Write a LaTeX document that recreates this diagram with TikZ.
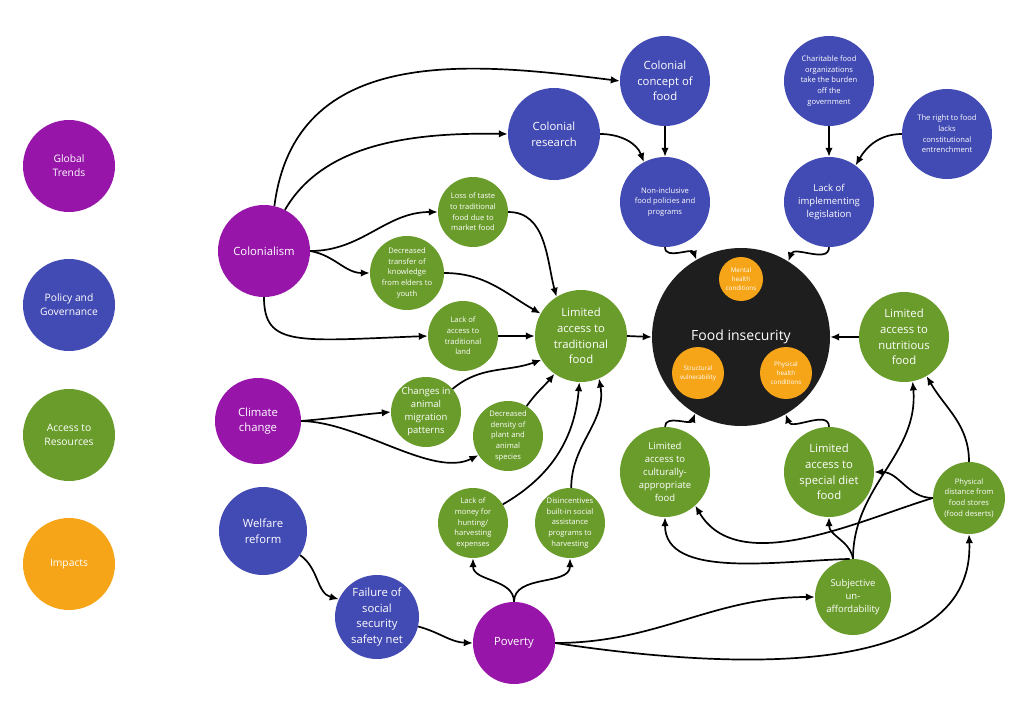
\documentclass[tikz,border=0pt]{standalone}
\usepackage{fontspec}
\setmainfont{Open Sans}
\usetikzlibrary{arrows.meta}
\definecolor{cpurple}{HTML}{9815AA}
\definecolor{cblue}{HTML}{424AB3}
\definecolor{cgreen}{HTML}{6A9C2B}
\definecolor{corange}{HTML}{F6A519}
\definecolor{cblack}{HTML}{1E1E1E}
\tikzset{
  circ/.style={circle, inner sep=0pt, text=white, align=center},
  gtr/.style={circ, fill=cpurple},
  pol/.style={circ, fill=cblue},
  acc/.style={circ, fill=cgreen},
  imp/.style={circ, fill=corange},
  fbig/.style={font=\fontsize{11.3}{15.7}\selectfont},
  fmid/.style={font=\fontsize{9.5}{13}\selectfont},
  fsmall/.style={font=\fontsize{7.6}{10.7}\selectfont},
  ftiny/.style={font=\fontsize{6.3}{9}\selectfont},
  flegend/.style={font=\fontsize{10.3}{14}\selectfont},
  link/.style={-{Latex[length=9pt,width=7.5pt]}, line width=1.7pt, black},
}
\begin{document}
\begin{tikzpicture}[x=1pt,y=1pt]
\useasboundingbox (0,0) rectangle (1024,-706);
% legend
\node[gtr,flegend,minimum size=92] (gt) at (69,-166) {Global\\Trends};
\node[pol,flegend,minimum size=92] (pg) at (69,-305) {Policy and\\Governance};
\node[acc,flegend,minimum size=92] (ar) at (69,-435) {Access to\\Resources};
\node[imp,flegend,minimum size=92] (im) at (69,-564) {Impacts};
% main nodes
\node[gtr,fbig,minimum size=92] (col) at (264,-251) {Colonialism};
\node[pol,fbig,minimum size=92] (cr) at (554,-134) {Colonial\\research};
\node[pol,fbig,minimum size=90] (cc) at (665,-81) {Colonial\\concept of\\food};
\node[pol,fsmall,minimum size=90] (ni) at (665,-202) {Non-inclusive\\food policies and\\programs};
\node[pol,fsmall,minimum size=90] (cf) at (829,-81) {Charitable food\\organizations\\take the burden\\off the\\government};
\node[pol,fmid,minimum size=90] (li) at (829,-202) {Lack of\\implementing\\legislation};
\node[pol,fsmall,minimum size=90] (rf) at (947,-134) {The right to food\\lacks\\constitutional\\entrenchment};
\node[acc,fsmall,minimum size=70] (lt) at (473,-212) {Loss of taste\\to traditional\\food due to\\market food};
\node[acc,fsmall,minimum size=74] (dt) at (407,-273) {Decreased\\transfer of\\knowledge\\from elders to\\youth};
\node[acc,fsmall,minimum size=70] (la) at (463,-336) {Lack of\\access to\\traditional\\land};
\node[acc,fbig,minimum size=92] (ltf) at (581,-336) {Limited\\access to\\traditional\\food};
\node[gtr,fbig,minimum size=86] (cl) at (258,-421) {Climate\\change};
\node[acc,fmid,minimum size=70] (cm) at (426,-412) {Changes in\\animal\\migration\\patterns};
\node[acc,fsmall,minimum size=70] (dd) at (508,-436) {Decreased\\density of\\plant and\\animal\\species};
\node[acc,fsmall,minimum size=70] (lm) at (473,-523) {Lack of\\money for\\hunting/\\harvesting\\expenses};
\node[acc,fsmall,minimum size=70] (di) at (570,-523) {Disincentives\\built-in social\\assistance\\programs to\\harvesting};
\node[pol,fbig,minimum size=88] (wr) at (263,-531) {Welfare\\reform};
\node[pol,fbig,minimum size=84] (fs) at (377,-617) {Failure of\\social\\security\\safety net};
\node[gtr,fbig,minimum size=82] (pov) at (514,-643) {Poverty};
\node[circ,fill=cblack,minimum size=178,font=\fontsize{14}{18}\selectfont] (fi) at (741,-337) {Food insecurity};
\node[imp,ftiny,minimum size=44] (mh) at (741,-279) {Mental\\health\\conditions};
\node[imp,ftiny,minimum size=52] (sv) at (698,-373) {Structural\\vulnerability};
\node[imp,ftiny,minimum size=52] (ph) at (786,-373) {Physical\\health\\conditions};
\node[acc,fbig,minimum size=90] (ln) at (904,-337) {Limited\\access to\\nutritious\\food};
\node[acc,fmid,minimum size=90] (lc) at (665,-472) {Limited\\access to\\culturally-\\appropriate\\food};
\node[acc,fbig,minimum size=90] (ls) at (829,-472) {Limited\\access to\\special diet\\food};
\node[acc,fsmall,minimum size=72] (pd) at (969,-498) {Physical\\distance from\\food stores\\(food deserts)};
\node[acc,fmid,minimum size=76] (su) at (853,-597) {Subjective\\un-\\affordability};
% connectors
\draw[link] (col.77) .. controls +(21,162) and +(-150,19) .. (cc.180);
\draw[link] (col.63) .. controls +(36,62) and +(-107,2) .. (cr.180);
\draw[link] (col.0) to[out=0,in=180] (lt.180);
\draw[link] (col.0) to[out=-10,in=180] (dt.180);
\draw[link] (col.270) .. controls +(0,-50) and +(-130,-5) .. (la.180);
\draw[link] (lt.0) to[out=0,in=105] (ltf.122);
\draw[link] (dt.0) to[out=0,in=150] (ltf.151);
\draw[link] (la.0) -- (ltf.180);
\draw[link] (cm.41) to[out=40,in=200] (ltf.211);
\draw[link] (dd.58) to[out=55,in=230] (ltf.235);
\draw[link] (cl.0) to[out=5,in=185] (cm.180);
\draw[link] (cl.0) .. controls +(59,-1) and +(-46,-23) .. (dd.213);
\draw[link] (lm.32) to[out=30,in=265] (ltf.268);
\draw[link] (di.88) to[out=90,in=280] (ltf.293);
\draw[link] (wr.327) to[out=-35,in=165] (fs.155);
\draw[link] (fs.347) to[out=-15,in=178] (pov.180);
\draw[link] (pov.90) to[out=90,in=270] (lm.270);
\draw[link] (pov.90) to[out=90,in=270] (di.270);
\draw[link] (pov.0) to[out=0,in=180] (su.180);
\draw[link] (pov.0) .. controls +(145,-22) and +(6,-155) .. (pd.270);
\draw[link] (cr.0) to[out=0,in=110] (ni.118);
\draw[link] (cc.270) -- (ni.90);
\draw[link] (cf.270) -- (li.90);
\draw[link] (rf.180) to[out=180,in=60] (li.54);
\draw[link] (ni.270) to[out=270,in=110] (fi.120);
\draw[link] (li.270) to[out=270,in=70] (fi.58);
\draw[link] (ltf.0) -- (fi.180);
\draw[link] (ln.180) -- (fi.0);
\draw[link] (lc.90) to[out=90,in=250] (fi.239);
\draw[link] (ls.90) to[out=90,in=290] (fi.300);
\draw[link] (pd.90) to[out=90,in=300] (ln.300);
\draw[link] (pd.180) to[out=180,in=0] (ls.0);
\draw[link] (pd.180) .. controls +(-73,-22) and +(43,-73) .. (lc.312);
\draw[link] (su.90) to[out=90,in=275] (ln.281);
\draw[link] (su.90) to[out=100,in=270] (ls.270);
\draw[link] (su.95) .. controls +(-73,-2) and +(0,-62) .. (lc.270);
\end{tikzpicture}
\end{document}
